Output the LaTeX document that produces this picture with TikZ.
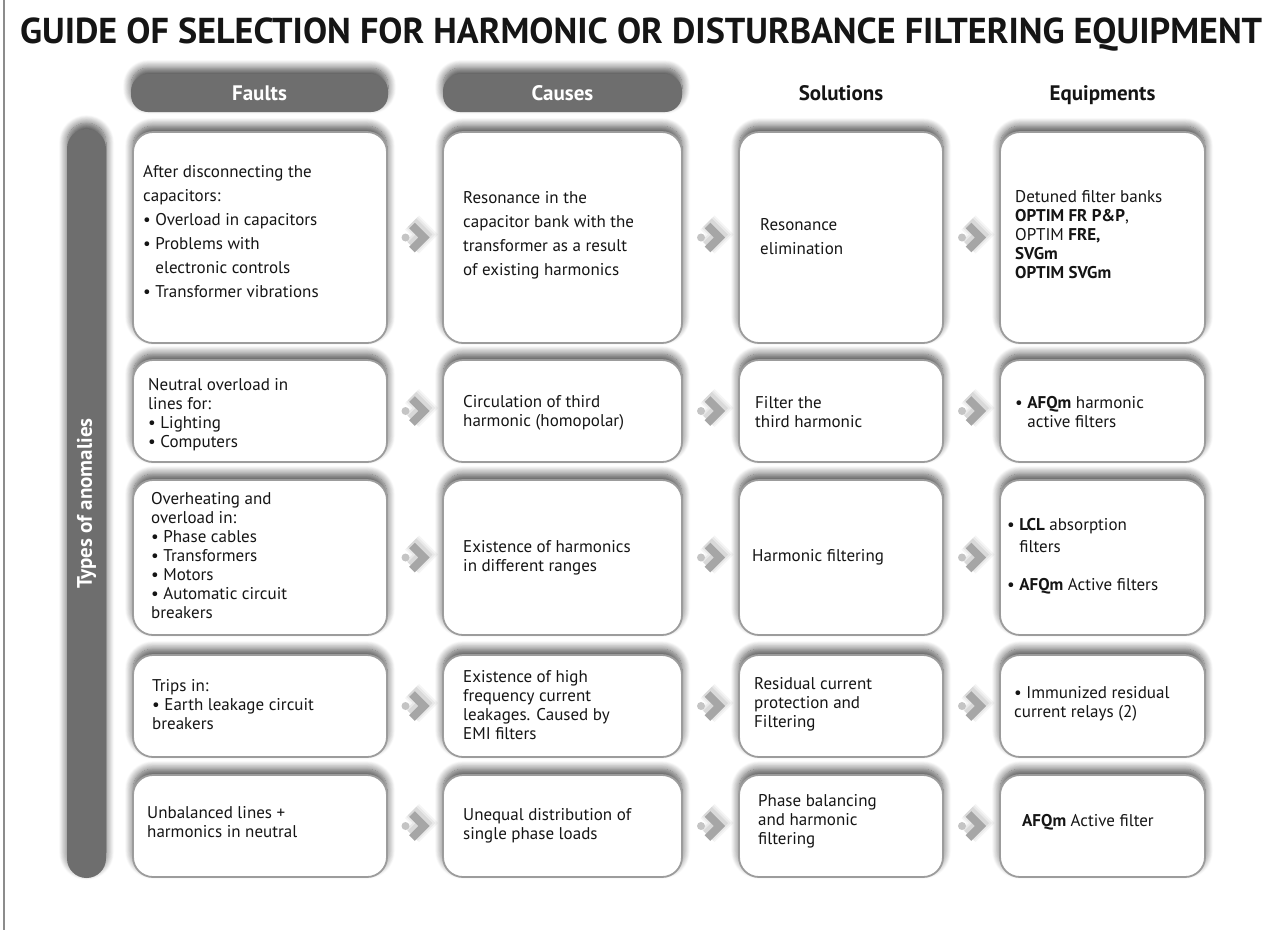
\documentclass[tikz,border=0pt]{standalone}
\usepackage{graphicx}
\usepackage{fontspec}
\setmainfont{PT Sans}
\usetikzlibrary{calc,shadows.blur}

\definecolor{pill}{HTML}{6E6E6E}
\definecolor{edge}{HTML}{9C9C9C}
\definecolor{chev}{HTML}{A6A6A6}
\definecolor{dotc}{HTML}{C4C4C4}
\definecolor{ink}{HTML}{151515}
\definecolor{frame}{HTML}{8C8C8C}

\tikzset{
  softshadow/.style={blur shadow={shadow xshift=0pt, shadow yshift=6pt,
      shadow blur radius=8pt, shadow blur steps=12, shadow opacity=70}},
  cell/.style={draw=edge, line width=1.8pt, fill=white, rounded corners=20pt,
      softshadow, inner sep=0pt},
  headpill/.style={fill=pill, rounded corners=17pt, softshadow, text=white,
      font=\fontsize{21}{23}\selectfont\bfseries, inner sep=0pt,
      text height=17pt, text depth=3pt},
  headtxt/.style={text=ink, font=\fontsize{21}{23}\selectfont\bfseries,
      inner sep=0pt, text height=15pt, text depth=5pt},
  body/.style={text=ink, anchor=west, align=left, inner sep=0pt,
      font=\fontsize{17}{19}\selectfont},
  bodywide/.style={body, font=\fontsize{17}{24}\selectfont},
  chevron/.pic={
    % soft halo under the chevron
    \foreach \w/\o in {20/0.04,16/0.05,12/0.07}
      \draw[line width=\w pt, black, opacity=\o, line join=miter, yshift=3pt]
        (-3,-12) -- (9,0) -- (-3,12);
    \fill[dotc] (-9.5,0) circle (4);
    \draw[chev, line width=8pt, line join=miter] (-3,-12) -- (9,0) -- (-3,12);
  }
}

\begin{document}
\begin{tikzpicture}[x=1pt,y=-1pt]
\useasboundingbox (0,0) rectangle (1277,930);

% left frame line
\coordinate (ftop) at (4,0);
\coordinate (fbot) at (4,930);
\draw[frame, line width=1.3pt] (ftop) -- (fbot);

% title
\node[anchor=base west, inner sep=0pt, text=ink] (title) at (20,43)
  {\resizebox{1242pt}{\height}{\fontsize{36}{36}\selectfont\bfseries
   GUIDE OF SELECTION FOR HARMONIC OR DISTURBANCE FILTERING EQUIPMENT}};

% column headers
\node[headpill, minimum width=257pt, minimum height=38pt] (hfaults) at (259.5,93) {Faults};
\node[headpill, minimum width=239pt, minimum height=38pt] (hcauses) at (562.5,93) {Causes};
\node[headtxt] (hsol) at (841,95) {Solutions};
\node[headtxt] (hequ) at (1102.5,95) {Equipments};

% side bar
\node[fill=pill, rounded corners=19.5pt, softshadow, rotate=90,
      minimum width=749pt, minimum height=39pt, inner sep=0pt, text=white,
      font=\fontsize{21}{23}\selectfont\bfseries] (bar) at (86.5,503.5) {Types of anomalies};

% grid of cells
\foreach \r/\cy/\h in {1/237.5/211, 2/411/102, 3/557.5/155, 4/706/102, 5/826/102} {
  \node[cell, minimum width=254pt, minimum height=\h pt] (r\r c1) at (260,\cy) {};
  \node[cell, minimum width=239pt, minimum height=\h pt] (r\r c2) at (562.5,\cy) {};
  \node[cell, minimum width=204pt, minimum height=\h pt] (r\r c3) at (841,\cy) {};
  \node[cell, minimum width=205pt, minimum height=\h pt] (r\r c4) at (1102.5,\cy) {};
}

% chevrons between cells
\foreach \r in {1,...,5} {
  \pic at ($(r\r c1.east)!0.5!(r\r c2.west)$) {chevron};
  \pic at ($(r\r c2.east)!0.5!(r\r c3.west)$) {chevron};
  \pic at ($(r\r c3.east)!0.5!(r\r c4.west)$) {chevron};
}

% row 1
\node[bodywide] (t11) at (143,231.5) {After disconnecting the\\ capacitors:\\ • Overload in capacitors\\ • Problems with\\ \hphantom{• }electronic controls\\ • Transformer vibrations};
\node[bodywide] (t12) at (463,235) {Resonance in the\\ capacitor bank with the\\ transformer as a result\\ of existing harmonics};
\node[bodywide] (t13) at (760,237) {Resonance\\ elimination};
\node[body] (t14) at (1015,235) {Detuned filter banks\\ \textbf{OPTIM FR P\&P},\\ OPTIM \textbf{FRE,}\\ \textbf{SVGm}\\ \textbf{OPTIM SVGm}};

% row 2
\node[body] (t21) at (148,414.5) {Neutral overload in\\ lines for:\\ • Lighting\\ • Computers};
\node[body] (t22) at (463,412.5) {Circulation of third\\ harmonic (homopolar)};
\node[body] (t23) at (755,412) {Filter the\\ third harmonic};
\node[body] (t24) at (1015,412.5) {• \textbf{AFQm} harmonic\\ \hphantom{• }active filters};

% row 3
\node[body] (t31) at (151,555.5) {Overheating and\\ overload in:\\ • Phase cables\\ • Transformers\\ • Motors\\ • Automatic circuit\\ breakers};
\node[body] (t32) at (463,557.5) {Existence of harmonics\\ in different ranges};
\node[body] (t33) at (752,557) {Harmonic filtering};
\node[body, font=\fontsize{17}{22}\selectfont] (t34) at (1007,556) {• \textbf{LCL} absorption\\ \hphantom{• }filters\\[16pt] • \textbf{AFQm} Active filters};

% row 4
\node[body] (t41) at (152,705) {Trips in:\\ • Earth leakage circuit\\ breakers};
\node[body] (t42) at (463,705.5) {Existence of high\\ frequency current\\ leakages. Caused by\\ EMI filters};
\node[body] (t43) at (754,704) {Residual current\\ protection and\\ Filtering};
\node[body] (t44) at (1014,704) {• Immunized residual\\ current relays (2)};

% row 5
\node[body] (t51) at (147,822.5) {Unbalanced lines +\\ harmonics in neutral};
\node[body] (t52) at (463,825.5) {Unequal distribution of\\ single phase loads};
\node[body] (t53) at (758,821.5) {Phase balancing\\ and harmonic\\ filtering};
\node[body] (t54) at (1022,822) {\textbf{AFQm} Active filter};
\end{tikzpicture}
\end{document}
